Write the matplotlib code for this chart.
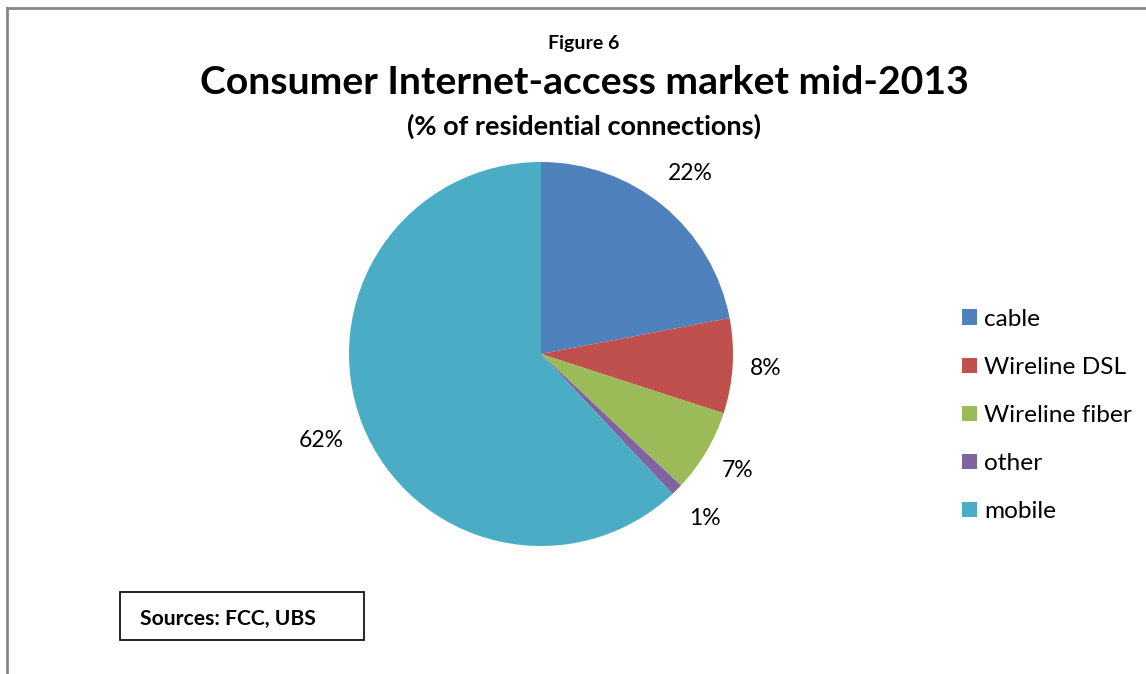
import numpy as np
import matplotlib
matplotlib.use("Agg")
import matplotlib.pyplot as plt
from matplotlib.lines import Line2D
from matplotlib.patches import Rectangle

categories = ["cable", "Wireline DSL", "Wireline fiber", "other", "mobile"]
shares = [22, 8, 7, 1, 62]
colors = ["#4F81BD", "#C0504D", "#9BBB59", "#8064A2", "#4BACC6"]
label_dist = [1.22, 1.17, 1.19, 1.21, 1.23]

plt.rcParams["font.family"] = ["Lato", "DejaVu Sans"]

W, H = 1146, 674
fig = plt.figure(figsize=(W / 100, H / 100), dpi=100)
fig.patch.set_facecolor("white")

# outer chart frame (top and left edges)
fig.add_artist(Line2D([7 / W, 1], [1 - 8 / H, 1 - 8 / H], color="#868686", lw=2))
fig.add_artist(Line2D([7 / W, 7 / W], [0, 1 - 8 / H], color="#868686", lw=2))

# titles
fig.text(584 / W, 1 - 43 / H, "Figure 6", ha="center", va="center",
         fontsize=14, fontweight="bold")
fig.text(584 / W, 1 - 82 / H, "Consumer Internet-access market mid-2013",
         ha="center", va="center", fontsize=28.2, fontweight="bold")
fig.text(584 / W, 1 - 126 / H, "(% of residential connections)",
         ha="center", va="center", fontsize=19.5, fontweight="bold")

# pie
cx, cy, r = 541, 354, 192
ax = fig.add_axes([(cx - r) / W, (H - cy - r) / H, 2 * r / W, 2 * r / H])
wedges, _ = ax.pie(shares, colors=colors, startangle=90, counterclock=False,
                   radius=1.0, wedgeprops=dict(linewidth=0))
ax.set_xlim(-1, 1)
ax.set_ylim(-1, 1)
ax.set_aspect("auto")
ax.axis("off")

total = float(sum(shares))
start = 90.0
for val, d in zip(shares, label_dist):
    sweep = 360.0 * val / total
    mid = np.deg2rad(start - sweep / 2)
    ax.text(d * np.cos(mid), d * np.sin(mid), f"{val}%", ha="center",
            va="center", fontsize=16.5, clip_on=False)
    start -= sweep

# legend: colour squares with labels, one row per category
row0, row_step = 317, 48
for i, (name, col) in enumerate(zip(categories, colors)):
    yc = row0 + i * row_step
    fig.add_artist(Rectangle((962 / W, 1 - (yc + 7.5) / H), 15 / W, 15 / H,
                             transform=fig.transFigure, facecolor=col,
                             edgecolor="none"))
    fig.text(984 / W, 1 - yc / H, name, ha="left", va="center_baseline",
             fontsize=17.6)

# source box
fig.add_artist(Rectangle((120 / W, 1 - 640 / H), 244 / W, 48 / H,
                         transform=fig.transFigure, fill=False,
                         edgecolor="black", lw=1.2))
fig.text(140 / W, 1 - 617 / H, "Sources: FCC, UBS", ha="left",
         va="center_baseline", fontsize=15.2, fontweight="bold")

fig.savefig("out.png", dpi=100, facecolor="white")
